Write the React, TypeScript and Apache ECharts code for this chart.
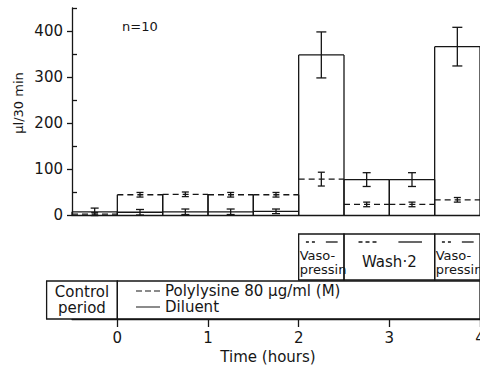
import React, { useEffect, useRef } from 'react';
import * as echarts from 'echarts';

// 30-min collection periods (hours)
const periodStart = [-0.5, 0, 0.5, 1, 1.5, 2, 2.5, 3, 3.5];
const periodEnd = [0, 0.5, 1, 1.5, 2, 2.5, 3, 3.5, 4];
// µl/30 min, mean ± SEM
const diluentMean = [7, 6, 7, 7, 8, 348, 77, 77, 366];
const diluentSem = [8, 6, 6, 6, 5, 50, 15, 15, 42];
const polylysineMean = [2, 44, 45, 44, 44, 78, 23, 23, 33];
const polylysineSem = [3, 5, 5, 5, 5, 15, 5, 5, 5];

const yTicks = [0, 100, 200, 300, 400];
const yMinorTicks = [50, 150, 250, 350, 450];
const timeTicks = [0, 1, 2, 3, 4];

// protocol phases shown above the time axis
const phaseStart = [2, 2.5, 3.5];
const phaseEnd = [2.5, 3.5, 4];
const phaseLabels = ['Vaso-\npressin', 'Wash·2', 'Vaso-\npressin'];

const panelStart = [-0.78, 0];
const panelEnd = [0, 4];
const panelLabels = ['Control\nperiod', ''];

const seriesNames = ['Polylysine 80 µg/ml (M)', 'Diluent'];

const FONT = 'DejaVu Sans';
const INK = '#161616';
const LW = 1.3;

const rows = periodStart.map((s, i) => [
  s,
  periodEnd[i],
  diluentMean[i],
  diluentSem[i],
  polylysineMean[i],
  polylysineSem[i],
]);

const seg = (x1: number, y1: number, x2: number, y2: number, dash?: number[]) => ({
  type: 'line',
  shape: { x1, y1, x2, y2 },
  style: { stroke: INK, lineWidth: LW, lineDash: dash || null, fill: null },
});

const errorBar = (api: any, xc: number, x: number, m: number, e: number, w: number) => {
  const yt = api.coord([x, m + e])[1];
  const yb = api.coord([x, m - e])[1];
  return [seg(xc, yt, xc, yb), seg(xc - w, yt, xc + w, yt), seg(xc - w, yb, xc + w, yb)];
};

export default function App() {
  const ref = useRef<HTMLDivElement>(null);

  useEffect(() => {
    if (!ref.current) return;
    const chart = echarts.init(ref.current, undefined, { renderer: 'svg' });

    const hiddenY = (gridIndex: number) => ({
      type: 'value',
      gridIndex,
      min: 0,
      max: 1,
      show: false,
    });

    const option: any = {
      animation: false,
      backgroundColor: '#fff',
      textStyle: { fontFamily: FONT, color: INK },
      grid: [
        { left: 72, right: 0, top: 8, bottom: 156, outerBoundsMode: 'none', containLabel: false },
        { left: 72, right: 0, top: 234, height: 46, outerBoundsMode: 'none', containLabel: false },
        { left: 72, right: 0, top: 281, height: 38, outerBoundsMode: 'none', containLabel: false },
      ],
      xAxis: [
        {
          type: 'value',
          gridIndex: 0,
          min: -0.5,
          max: 4,
          axisLine: { show: true, onZero: false, lineStyle: { color: INK, width: LW } },
          axisTick: { show: false },
          axisLabel: { show: false },
          splitLine: { show: false },
        },
        {
          type: 'value',
          gridIndex: 1,
          min: -0.5,
          max: 4,
          show: false,
        },
        {
          type: 'value',
          gridIndex: 2,
          min: -0.5,
          max: 4,
          axisLine: { show: true, onZero: false, lineStyle: { color: INK, width: LW } },
          axisTick: {
            show: true,
            customValues: timeTicks,
            length: 8,
            lineStyle: { color: INK, width: LW },
          },
          axisLabel: {
            show: true,
            customValues: timeTicks,
            margin: 11,
            fontSize: 15,
            fontFamily: FONT,
            color: INK,
          },
          splitLine: { show: false },
        },
      ],
      yAxis: [
        {
          type: 'value',
          gridIndex: 0,
          position: 'left',
          min: 0,
          max: 450,
          axisLine: { show: true, onZero: false, lineStyle: { color: INK, width: LW } },
          axisTick: {
            show: true,
            customValues: yTicks,
            length: 5,
            lineStyle: { color: INK, width: LW },
          },
          axisLabel: {
            show: true,
            customValues: yTicks,
            margin: 9,
            fontSize: 15,
            fontFamily: FONT,
            color: INK,
          },
          splitLine: { show: false },
        },
        {
          type: 'value',
          gridIndex: 0,
          position: 'left',
          min: 0,
          max: 450,
          axisLine: { show: false, onZero: false },
          axisTick: {
            show: true,
            inside: true,
            customValues: yMinorTicks,
            length: 5,
            lineStyle: { color: INK, width: LW },
          },
          axisLabel: { show: false },
          splitLine: { show: false },
        },
        hiddenY(1),
        hiddenY(2),
      ],
      legend: {
        left: 136,
        top: 283,
        orient: 'vertical',
        padding: 0,
        itemGap: 0,
        itemWidth: 24,
        itemHeight: 2,
        selectedMode: false,
        textStyle: { fontFamily: FONT, fontSize: 15, color: INK, lineHeight: 16 },
        data: [
          {
            name: seriesNames[0],
            icon: 'path://M0,0H6V1H0Z M9,0H15V1H9Z M18,0H24V1H18Z',
            itemStyle: { color: INK },
          },
          {
            name: seriesNames[1],
            icon: 'path://M0,0H24V1H0Z',
            itemStyle: { color: INK },
          },
        ],
      },
      series: [
        {
          // Diluent: solid outlined periods, with the period walls rising to the higher of both groups
          name: seriesNames[1],
          type: 'custom',
          xAxisIndex: 0,
          yAxisIndex: 0,
          clip: false,
          itemStyle: { color: INK },
          encode: { x: [0, 1], y: [2, 4] },
          data: rows,
          renderItem: (params: any, api: any) => {
            const s = api.value(0);
            const e = api.value(1);
            const dm = api.value(2);
            const de = api.value(3);
            const pm = api.value(4);
            const [x0, y0] = api.coord([s, 0]);
            const x1 = api.coord([e, 0])[0];
            const yTop = api.coord([s, Math.max(dm, pm)])[1];
            const yD = api.coord([s, dm])[1];
            const xc = (x0 + x1) / 2;
            const w = dm > 200 ? 5 : 4;
            return {
              type: 'group',
              children: [
                seg(x0, y0, x0, yTop),
                seg(x1, y0, x1, yTop),
                seg(x0, yD, x1, yD),
                ...errorBar(api, xc, s, dm, de, w),
              ],
            };
          },
        },
        {
          // Polylysine: dashed level per period
          name: seriesNames[0],
          type: 'custom',
          xAxisIndex: 0,
          yAxisIndex: 0,
          clip: false,
          itemStyle: { color: INK },
          encode: { x: [0, 1], y: [4] },
          data: rows,
          renderItem: (params: any, api: any) => {
            const s = api.value(0);
            const e = api.value(1);
            const pm = api.value(4);
            const pe = api.value(5);
            const x0 = api.coord([s, 0])[0];
            const x1 = api.coord([e, 0])[0];
            const yP = api.coord([s, pm])[1];
            const xc = (x0 + x1) / 2;
            return {
              type: 'group',
              children: [seg(x0, yP, x1, yP, [6, 4]), ...errorBar(api, xc, s, pm, pe, 3.5)],
            };
          },
        },
        {
          // protocol phase boxes with line-style keys
          type: 'custom',
          xAxisIndex: 1,
          yAxisIndex: 2,
          clip: false,
          silent: true,
          encode: { x: [0, 1] },
          data: phaseStart.map((s, i) => [s, phaseEnd[i]]),
          renderItem: (params: any, api: any) => {
            const s = api.value(0);
            const e = api.value(1);
            const label = phaseLabels[params.dataIndex];
            const [x0, yb] = api.coord([s, 0]);
            const [x1, yt] = api.coord([e, 1]);
            const w = x1 - x0;
            const ys = yt + 8;
            const multi = label.indexOf('\n') >= 0;
            return {
              type: 'group',
              children: [
                {
                  type: 'rect',
                  shape: { x: x0, y: yt, width: w, height: yb - yt },
                  style: { fill: 'none', stroke: INK, lineWidth: LW },
                },
                seg(x0 + 0.16 * w, ys, x0 + 0.37 * w, ys, multi ? [3, 3] : [4, 3]),
                seg(x0 + 0.6 * w, ys, x0 + 0.86 * w, ys),
                {
                  type: 'text',
                  x: multi ? x0 + 1 : (x0 + x1) / 2,
                  y: (yt + yb) / 2 + 5,
                  style: {
                    text: label,
                    align: multi ? 'left' : 'center',
                    verticalAlign: 'middle',
                    fontFamily: FONT,
                    fontSize: multi ? 13 : 15,
                    lineHeight: 14,
                    fill: INK,
                  },
                },
              ],
            };
          },
        },
        {
          // control-period / treatment panel above the time axis
          type: 'custom',
          xAxisIndex: 2,
          yAxisIndex: 3,
          clip: false,
          silent: true,
          encode: { x: [0, 1] },
          data: panelStart.map((s, i) => [s, panelEnd[i]]),
          renderItem: (params: any, api: any) => {
            const s = api.value(0);
            const e = api.value(1);
            const label = panelLabels[params.dataIndex];
            const [x0, yb] = api.coord([s, 0]);
            const [x1, yt] = api.coord([e, 1]);
            return {
              type: 'group',
              children: [
                {
                  type: 'rect',
                  shape: { x: x0, y: yt, width: x1 - x0, height: yb - yt },
                  style: { fill: 'none', stroke: INK, lineWidth: LW },
                },
                {
                  type: 'text',
                  x: (x0 + x1) / 2,
                  y: (yt + yb) / 2,
                  style: {
                    text: label,
                    align: 'center',
                    verticalAlign: 'middle',
                    fontFamily: FONT,
                    fontSize: 15,
                    lineHeight: 16,
                    fill: INK,
                  },
                },
              ],
            };
          },
        },
      ],
      graphic: [
        {
          type: 'text',
          left: 122,
          top: 20,
          style: { text: 'n=10', fontFamily: FONT, fontSize: 13, fill: INK },
        },
        {
          type: 'text',
          x: 18,
          y: 103,
          rotation: Math.PI / 2,
          style: {
            text: 'µl/30 min',
            fontFamily: FONT,
            fontSize: 13,
            fill: INK,
            align: 'center',
            verticalAlign: 'middle',
          },
        },
        {
          type: 'text',
          x: 268,
          y: 357,
          style: {
            text: 'Time (hours)',
            fontFamily: FONT,
            fontSize: 15,
            fill: INK,
            align: 'center',
            verticalAlign: 'middle',
          },
        },
      ],
    };

    chart.setOption(option);
    return () => chart.dispose();
  }, []);

  return (
    <div
      ref={ref}
      style={{ position: 'absolute', left: 0, top: 0, width: 480, height: 371, background: '#fff' }}
    />
  );
}
